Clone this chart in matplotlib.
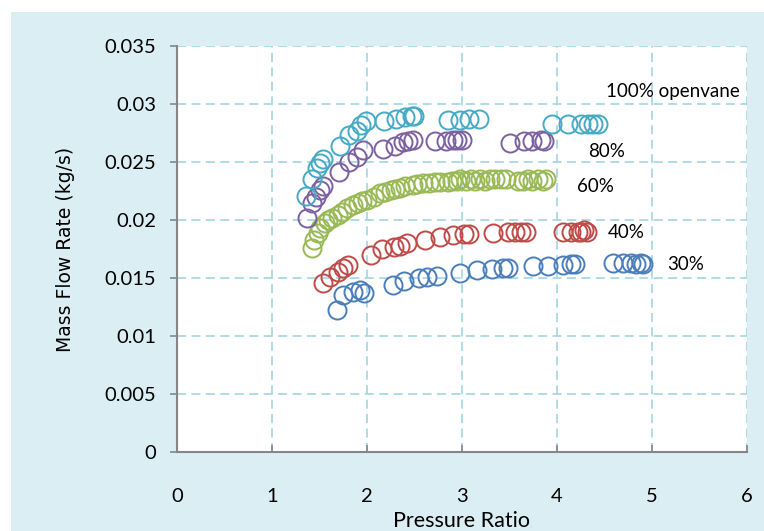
import matplotlib
matplotlib.use("Agg")
import matplotlib.pyplot as plt
from matplotlib.patches import Rectangle

# 30% vane opening
x30 = [1.68, 1.75, 1.85, 1.93, 1.97, 2.27, 2.39, 2.55, 2.63, 2.74, 2.98, 3.16, 3.32, 3.43, 3.48,
       3.75, 3.91, 4.06, 4.15, 4.19, 4.59, 4.70, 4.78, 4.83, 4.88, 4.91]
y30 = [0.0122, 0.0135, 0.0138, 0.0140, 0.0137, 0.0144, 0.0147, 0.0150, 0.0151, 0.0152, 0.0154, 0.0157,
       0.0158, 0.0159, 0.0159, 0.0160, 0.0160, 0.0161, 0.0162, 0.0162, 0.0163, 0.0163, 0.0163, 0.0162,
       0.0163, 0.0162]

# 40%
x40 = [1.54, 1.61, 1.69, 1.75, 1.80, 2.04, 2.16, 2.28, 2.35, 2.42, 2.61, 2.77, 2.91, 3.02, 3.07,
       3.33, 3.48, 3.56, 3.62, 3.67, 4.06, 4.15, 4.22, 4.25, 4.28, 4.32]
y40 = [0.0146, 0.0151, 0.0155, 0.0159, 0.0161, 0.0170, 0.0175, 0.0177, 0.0178, 0.0180, 0.0183, 0.0185,
       0.0187, 0.0188, 0.0188, 0.0189, 0.0190, 0.0190, 0.0190, 0.0190, 0.0190, 0.0190, 0.0190, 0.0190,
       0.0191, 0.0190]

# 60%
x60 = [1.42, 1.44, 1.48, 1.51, 1.56, 1.59, 1.63, 1.69, 1.74, 1.79, 1.85, 1.90, 1.95, 2.00, 2.07, 2.14,
       2.19, 2.25, 2.30, 2.35, 2.40, 2.48, 2.53, 2.59, 2.65, 2.72, 2.77, 2.85, 2.90, 2.95, 2.98, 3.04,
       3.09, 3.14, 3.19, 3.24, 3.30, 3.35, 3.41, 3.46, 3.59, 3.64, 3.69, 3.74, 3.80, 3.85, 3.88]
y60 = [0.0176, 0.0183, 0.0189, 0.0193, 0.0197, 0.0200, 0.0202, 0.0204, 0.0207, 0.0210, 0.0213, 0.0215,
       0.0216, 0.0217, 0.0220, 0.0223, 0.0224, 0.0226, 0.0227, 0.0228, 0.0229, 0.0230, 0.0231, 0.0232,
       0.0232, 0.0233, 0.0233, 0.0233, 0.0234, 0.0234, 0.0235, 0.0234, 0.0235, 0.0234, 0.0235, 0.0234,
       0.0235, 0.0235, 0.0235, 0.0235, 0.0234, 0.0234, 0.0235, 0.0234, 0.0235, 0.0234, 0.0235]

# 80%
x80 = [1.37, 1.42, 1.46, 1.50, 1.54, 1.71, 1.81, 1.89, 1.96, 2.17, 2.29, 2.38, 2.43, 2.48,
       2.72, 2.83, 2.91, 2.95, 3.00, 3.51, 3.65, 3.74, 3.83, 3.86]
y80 = [0.0202, 0.0215, 0.0220, 0.0226, 0.0229, 0.0241, 0.0250, 0.0254, 0.0260, 0.0261, 0.0264, 0.0267,
       0.0268, 0.0269, 0.0268, 0.0268, 0.0269, 0.0269, 0.0269, 0.0266, 0.0268, 0.0268, 0.0269, 0.0268]

# 100% open vane
x100 = [1.36, 1.42, 1.47, 1.50, 1.54, 1.72, 1.81, 1.89, 1.94, 1.99, 2.18, 2.31, 2.40, 2.47, 2.50,
        2.85, 2.98, 3.07, 3.18, 3.95, 4.12, 4.25, 4.33, 4.38, 4.43]
y100 = [0.0221, 0.0235, 0.0245, 0.0249, 0.0253, 0.0264, 0.0273, 0.0277, 0.0282, 0.0285, 0.0285, 0.0287,
        0.0289, 0.0290, 0.0290, 0.0286, 0.0286, 0.0287, 0.0287, 0.0283, 0.0283, 0.0283, 0.0283, 0.0283,
        0.0283]

xticks = [0, 1, 2, 3, 4, 5, 6]
yticks = [0, 0.005, 0.01, 0.015, 0.02, 0.025, 0.03, 0.035]
ytick_labels = ["0", "0.005", "0.01", "0.015", "0.02", "0.025", "0.03", "0.035"]

labels = ["30%", "40%", "60%", "80%", "100% openvane"]
label_pos = [(5.35, 0.0162), (4.73, 0.01888), (4.41, 0.0229), (4.52, 0.0259), (5.22, 0.0311)]

fig = plt.figure(figsize=(7.64, 5.31), dpi=100)
fig.patch.set_facecolor("white")
bg = Rectangle((0.014, 0), 0.986, 0.978, transform=fig.transFigure,
               facecolor="#DBEEF4", edgecolor="none", zorder=-10)
fig.add_artist(bg)

ax = fig.add_axes([0.2317, 0.1488, 0.7460, 0.7646])
ax.set_zorder(1)
ax.set_facecolor("white")

series = [(x30, y30, "#4A7EBB"), (x40, y40, "#BE4B48"), (x60, y60, "#98B954"),
          (x80, y80, "#7D60A0"), (x100, y100, "#46AAC5")]
for xs, ys, c in series:
    ax.plot(xs, ys, linestyle="none", marker="o", markersize=13, markerfacecolor="none",
            markeredgecolor=c, markeredgewidth=1.4)

for t, (tx, ty) in zip(labels, label_pos):
    ax.text(tx, ty, t, ha="center", va="center", fontsize=13.5, family="Lato", color="black")

ax.set_xlim(0, 6)
ax.set_ylim(0, 0.035)
ax.set_xticks(xticks)
ax.set_yticks(yticks)
ax.set_yticklabels(ytick_labels)

ax.grid(True, color="#A9D8E4", linestyle=(0, (5, 3)), linewidth=1.3)
ax.set_axisbelow(True)
for s in ["top", "right"]:
    ax.spines[s].set_visible(False)
for s in ["left", "bottom"]:
    ax.spines[s].set_color("#868686")
    ax.spines[s].set_linewidth(1.5)

ax.tick_params(axis="y", direction="out", length=5, color="#868686", width=1.2,
               labelsize=14.5, pad=10)
ax.tick_params(axis="x", direction="in", length=5, color="#868686", width=1.2,
               labelsize=14.5, pad=26)
for lab in ax.get_xticklabels() + ax.get_yticklabels():
    lab.set_family("Lato")

ax.set_xlabel("Pressure Ratio", fontsize=15.5, family="Lato")
ax.xaxis.label.set_va("center")
ax.xaxis.set_label_coords(0.5, -0.17)
ax.set_ylabel("Mass Flow Rate (kg/s)", fontsize=13.5, family="DejaVu Sans")
ax.yaxis.label.set_va("center")
ax.yaxis.set_label_coords(-0.195, 0.5)

fig.savefig("out.png", dpi=100)
